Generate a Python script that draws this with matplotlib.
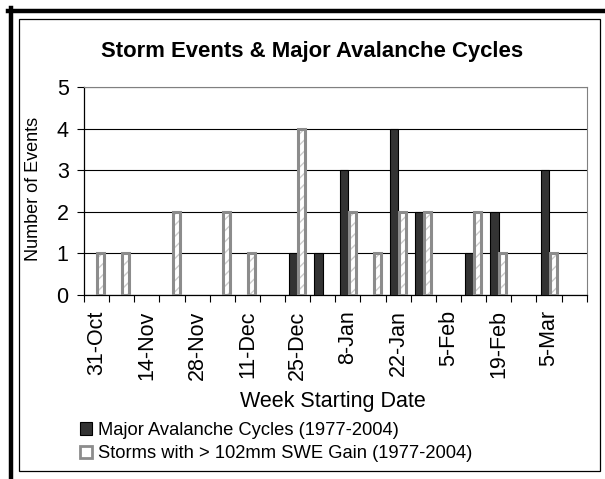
import numpy as np
import matplotlib
matplotlib.use('Agg')
import matplotlib.pyplot as plt
from matplotlib.patches import Patch
from matplotlib.lines import Line2D

plt.rcParams['font.family'] = ['Liberation Sans', 'DejaVu Sans']

# week starting dates (only every other one is labelled on the chart)
weeks = ['31-Oct', '7-Nov', '14-Nov', '21-Nov', '28-Nov', '4-Dec', '11-Dec', '18-Dec',
         '25-Dec', '1-Jan', '8-Jan', '15-Jan', '22-Jan', '29-Jan', '5-Feb', '12-Feb',
         '19-Feb', '26-Feb', '5-Mar', '12-Mar']
avalanche = [0, 0, 0, 0, 0, 0, 0, 0, 1, 1, 3, 0, 4, 2, 0, 1, 2, 0, 3, 0]
storms = [1, 1, 0, 2, 0, 2, 1, 0, 4, 0, 2, 1, 2, 2, 0, 2, 1, 0, 1, 0]

lbl_aval = 'Major Avalanche Cycles (1977-2004)'
lbl_storm = 'Storms with > 102mm SWE Gain (1977-2004)'

W, H = 605, 479
fig = plt.figure(figsize=(W / 100, H / 100), dpi=100)

# outer frame: thick black on left/top, thin box inside
fig.add_artist(Line2D([10.5 / W, 10.5 / W], [0, 1 - 8 / H], color='black', lw=3.2))
fig.add_artist(Line2D([8 / W, 1], [1 - 10.5 / H, 1 - 10.5 / H], color='black', lw=3.2))
fig.add_artist(plt.Rectangle((19 / W, 8 / H), 581 / W, 452 / H, fill=False,
                             edgecolor='black', lw=0.9, transform=fig.transFigure))

ax = fig.add_axes([84 / W, 1 - 295 / H, 502.7 / W, 208 / H])

x = np.arange(len(weeks))
av = np.array(avalanche)
st = np.array(storms)
ma, ms = av > 0, st > 0
bw = 0.33
ax.bar(x[ma] - bw / 2, av[ma], bw, color='#333333', edgecolor='black', lw=0.8, zorder=3)
ax.bar(x[ms] + bw / 2, st[ms], bw, color='white', edgecolor='#cccccc', hatch='///', lw=0, zorder=3)
ax.bar(x[ms] + bw / 2, st[ms], bw - 0.05, fill=False, edgecolor='#8c8c8c', lw=2.2, zorder=4)

ax.set_xlim(-0.5, len(weeks) - 0.5)
ax.set_ylim(0, 5)
ax.set_yticks(range(6))
ax.tick_params(axis='y', labelsize=15.5, length=5, width=0.8, pad=6)
ax.yaxis.grid(True, color='black', lw=0.8, zorder=0)

ax.set_xticks(np.arange(len(weeks) + 1) - 0.5)
ax.set_xticklabels([])
ax.tick_params(axis='x', which='major', length=5, width=0.8)
ax.set_xticks(x[::2], minor=True)
ax.set_xticklabels(weeks[::2], minor=True, rotation=90, fontsize=15.5)
ax.tick_params(axis='x', which='minor', length=0, pad=11)

for s in ['top', 'right']:
    ax.spines[s].set_color('#808080')
ax.spines['left'].set_linewidth(0.9)
ax.spines['bottom'].set_linewidth(0.9)

ax.set_ylabel('Number of Events', fontsize=13)
ax.yaxis.set_label_coords(-42 / 502.7, 0.51)

fig.text(312 / W, 1 - 52 / H, 'Storm Events & Major Avalanche Cycles',
         ha='center', va='center', fontsize=15.9, fontweight='bold')
fig.text(333 / W, 1 - 401 / H, 'Week Starting Date', ha='center', va='center', fontsize=15.5)

handles = [Patch(facecolor='#333333', edgecolor='black', lw=0.8),
           Patch(facecolor='white', edgecolor='#8c8c8c', lw=2)]
fig.legend(handles, [lbl_aval, lbl_storm], loc='upper left',
           bbox_to_anchor=(80 / W, 1 - 422 / H), frameon=False, fontsize=13.2,
           handlelength=0.65, handleheight=0.65, handletextpad=0.35,
           labelspacing=0.35, borderpad=0, borderaxespad=0)

fig.savefig('out.png', dpi=100)
